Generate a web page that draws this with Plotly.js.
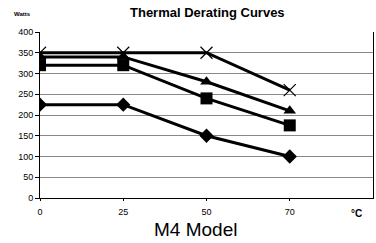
<!DOCTYPE html>
<html><head><meta charset="utf-8">
<script src="https://cdn.plot.ly/plotly-3.0.1.min.js"></script>
<style>html,body{margin:0;padding:0;background:#fff}#c{width:376px;height:243px}</style>
</head><body><div id="c"></div>
<script>
const categories = ['0', '25', '50', '70'];
const seriesX = [350, 350, 350, 260];
const seriesTriangle = [340, 340, 280, 210];
const seriesSquare = [320, 320, 240, 175];
const seriesDiamond = [225, 225, 150, 100];
const yTicks = [0, 50, 100, 150, 200, 250, 300, 350, 400];

const idx = categories.map((c, i) => i);
function tr(y, sym, size, lw) {
  return {x: idx, y: y, type: 'scatter', mode: 'lines+markers',
    line: {color: '#000', width: 3},
    marker: {symbol: sym, size: size, color: '#000', line: {color: '#000', width: lw || 0}},
    hoverinfo: 'none', showlegend: false};
}
const data = [
  tr(seriesDiamond, 'diamond', 11),
  tr(seriesSquare, 'square', 12),
  tr(seriesTriangle, 'triangle-up', 11),
  tr(seriesX, 'x-thin-open', 12, 1.2)
];
const layout = {
  width: 376, height: 243,
  margin: {l: 40, r: 3, t: 32, b: 45},
  paper_bgcolor: '#fff', plot_bgcolor: '#fff',
  font: {family: 'Liberation Sans, Arial, sans-serif', color: '#000', size: 9},
  xaxis: {range: [0, 4], tickvals: idx, ticktext: categories, showgrid: false, zeroline: false,
    showline: true, linecolor: '#000', linewidth: 1, ticks: 'outside', ticklen: 2, tickcolor: '#000',
    ticklabelstandoff: 3, tickfont: {size: 9}},
  yaxis: {range: [0, 400], tickvals: yTicks, showgrid: true, gridcolor: '#888', gridwidth: 1,
    zeroline: false, showline: true, mirror: true, linecolor: '#000', linewidth: 1,
    ticks: 'outside', ticklen: 4, tickcolor: '#000', tickfont: {size: 9}},
  annotations: [
    {text: '<b>Thermal Derating Curves</b>', showarrow: false, font: {size: 13}},
    {text: '<b>Watts</b>', showarrow: false, font: {size: 6}},
    {text: '<b>°C</b>', showarrow: false, font: {size: 10}},
    {text: 'M4 Model', showarrow: false, font: {size: 19}}
  ]
};
const W = 376, H = 243, L = 40, R = 3, T = 32, B = 45;
const pw = W - L - R, ph = H - T - B;
function px(xp, yp) { return {xref: 'paper', yref: 'paper', x: (xp - L) / pw, y: (H - B - yp) / ph}; }
Object.assign(layout.annotations[0], px(208, 12), {xanchor: 'center', yanchor: 'middle'});
Object.assign(layout.annotations[1], px(22, 14), {xanchor: 'center', yanchor: 'middle'});
Object.assign(layout.annotations[2], px(356, 213), {xanchor: 'center', yanchor: 'middle'});
Object.assign(layout.annotations[3], px(195, 229), {xanchor: 'center', yanchor: 'middle'});
Plotly.newPlot('c', data, layout, {staticPlot: true, displayModeBar: false});
</script></body></html>
